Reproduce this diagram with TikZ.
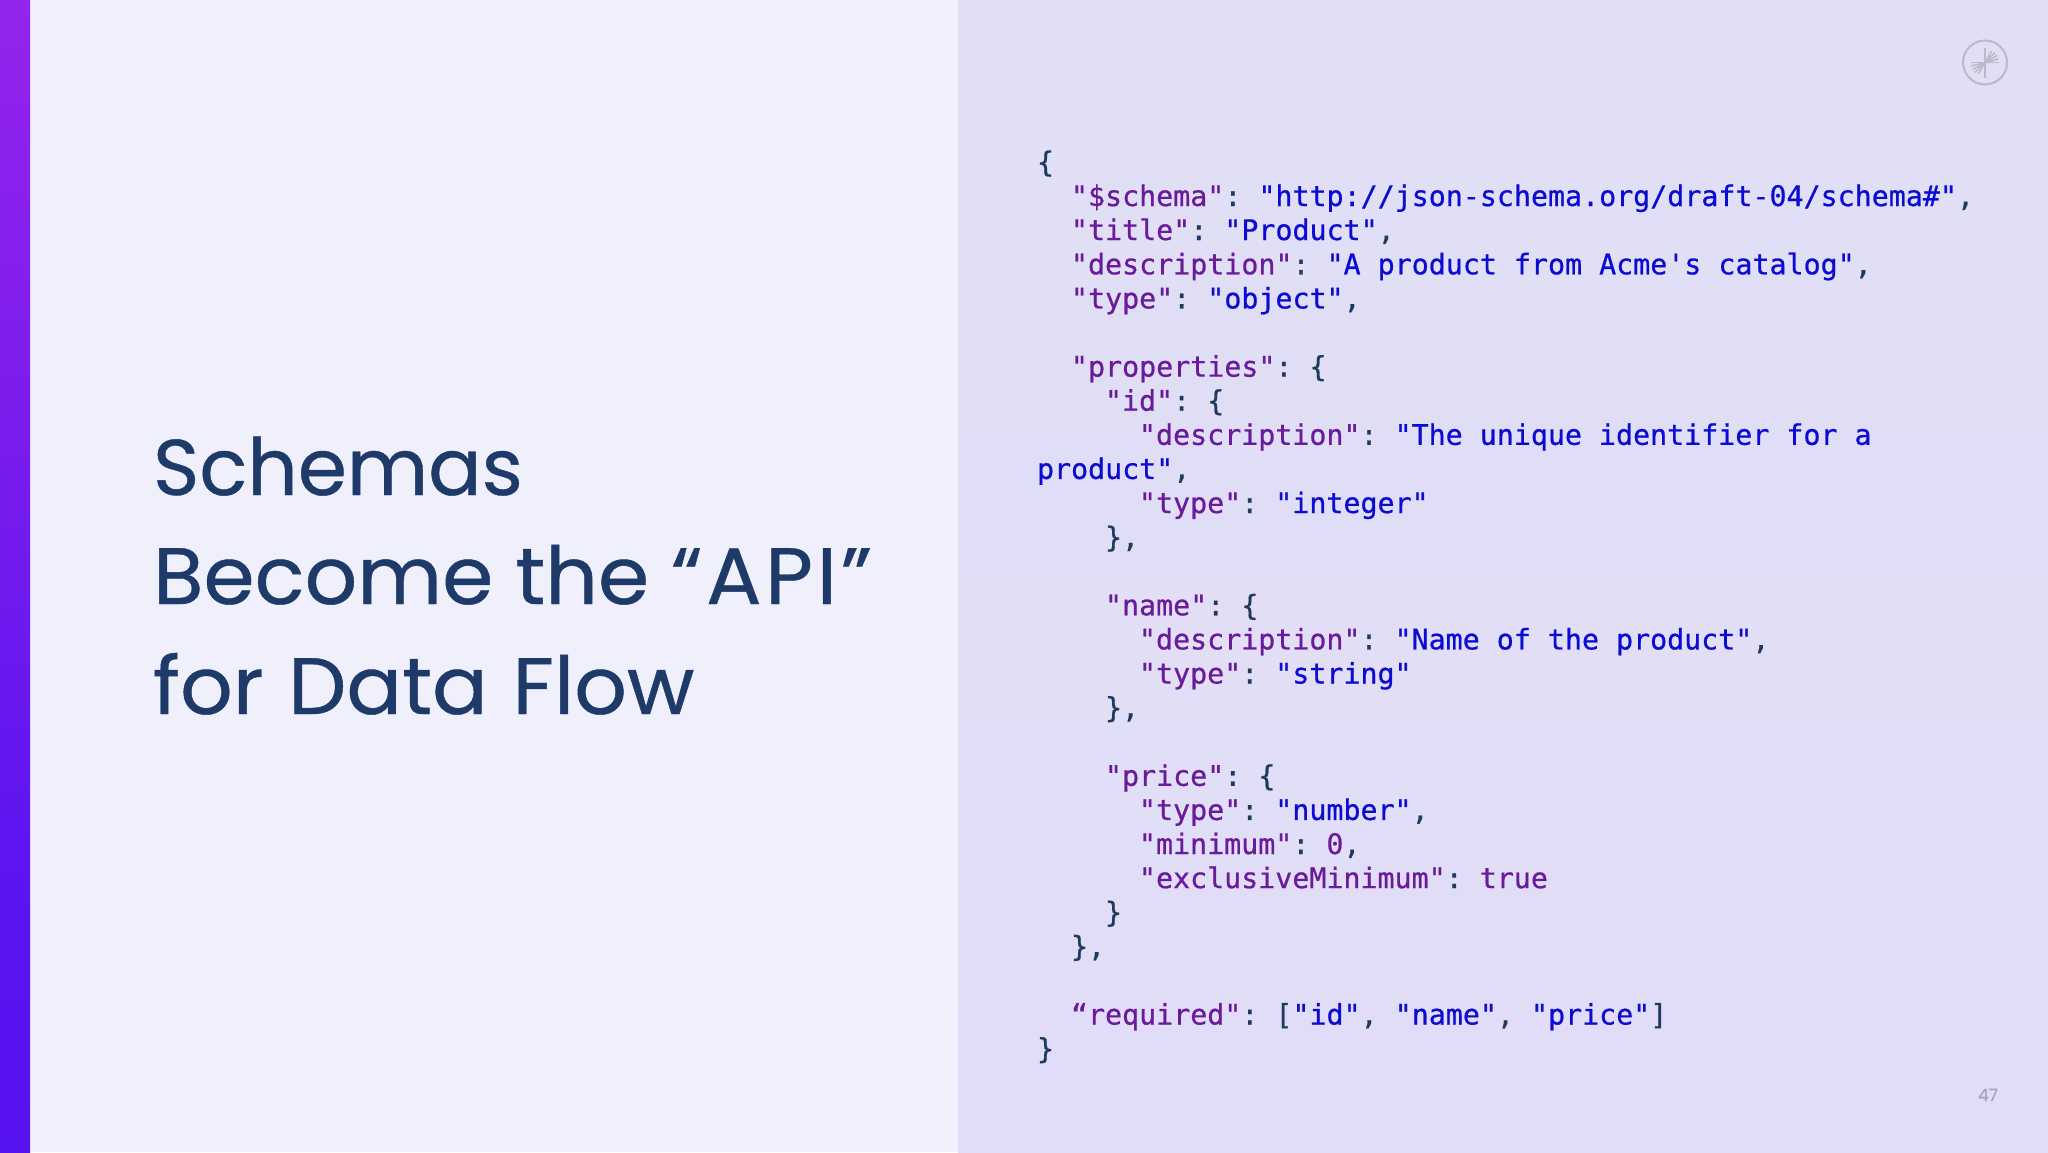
\documentclass[tikz,border=0pt]{standalone}
\usepackage{fontspec}
\setmainfont[FakeBold=0.5]{Poppins}
\newfontfamily\headwide[FakeBold=0.5,FakeStretch=1.03]{Poppins}
\newfontfamily\codefont[FakeBold=0.7]{DejaVu Sans Mono}
\definecolor{pageleft}{HTML}{F0F0FD}
\definecolor{pagertop}{HTML}{E0DFF4}
\definecolor{pagerbot}{HTML}{E1DDF8}
\definecolor{headcol}{HTML}{1E3A68}
\definecolor{keycol}{HTML}{6A1B9A}
\definecolor{strcol}{HTML}{0B0BD2}
\definecolor{puncol}{HTML}{1F3A5F}
\definecolor{logocol}{HTML}{BABACB}
\definecolor{numcol}{HTML}{A6A5BE}
\definecolor{barA}{HTML}{4A10F0}
\definecolor{barB}{HTML}{5A14F0}
\definecolor{barC}{HTML}{8E22EC}
\definecolor{barD}{HTML}{A232E8}
\definecolor{barE}{HTML}{8530CC}
\newcommand{\ckey}[1]{\textcolor{keycol}{#1}}
\newcommand{\cstr}[1]{\textcolor{strcol}{#1}}
\pgfdeclareverticalshading{barshade}{100bp}{
  color(0bp)=(barA);
  color(35bp)=(barB);
  color(70bp)=(barC);
  color(90bp)=(barD);
  color(100bp)=(barE)}
\tikzset{
  x=1pt,y=-1pt,
  code/.style={anchor=base west,inner sep=0pt,outer sep=0pt,text=puncol,font=\codefont\frenchspacing\fontsize{28.3}{34}\selectfont},
  headline/.style={anchor=base west,inner sep=0pt,outer sep=0pt,text=headcol,font=\fontsize{79}{90}\selectfont},
  headlinewide/.style={headline,font=\headwide\fontsize{80}{90}\selectfont},
  logoline/.style={draw=logocol,line width=1.5pt},
}
\begin{document}
\begin{tikzpicture}
\useasboundingbox (0,0) rectangle (2048,1152);
\fill[pageleft] (0,0) rectangle (958,1152);
\shade[top color=pagertop,bottom color=pagerbot] (958,0) rectangle (2048,1152);
\shade[shading=barshade] (0,0) rectangle (30,1152);
\node[headline] (h1) at (153,495) {Schemas};
\node[headlinewide] (h2) at (153,604) {Become the “\kern3.7pt A\kern3.7pt P\kern3.7pt I\kern3.7pt ”};
\node[headlinewide] (h3) at (153,714) {for\kern2.6pt{} Data\kern2.6pt{} Flow};
\node[code] (l0) at (1037,172) {\{};
\node[code] (l1) at (1071,206) {\ckey{"\$schema"}: \cstr{"http://json-schema.org/draft-04/schema\#"},};
\node[code] (l2) at (1071,240) {\ckey{"title"}: \cstr{"Product"},};
\node[code] (l3) at (1071,274.3) {\ckey{"description"}: \cstr{"A product from Acme's catalog"},};
\node[code] (l4) at (1071,308.4) {\ckey{"type"}: \cstr{"object"},};
\node[code] (l6) at (1071,376.6) {\ckey{"properties"}: \{};
\node[code] (l7) at (1105,410.7) {\ckey{"id"}: \{};
\node[code] (l8) at (1139,444.8) {\ckey{"description"}: \cstr{"The unique identifier for a}};
\node[code] (l9) at (1037,478.9) {\cstr{product"},};
\node[code] (l10) at (1139,513) {\ckey{"type"}: \cstr{"integer"}};
\node[code] (l11) at (1105,547.1) {\},};
\node[code] (l13) at (1105,615.3) {\ckey{"name"}: \{};
\node[code] (l14) at (1139,649.4) {\ckey{"description"}: \cstr{"Name of the product"},};
\node[code] (l15) at (1139,683.5) {\ckey{"type"}: \cstr{"string"}};
\node[code] (l16) at (1105,717.6) {\},};
\node[code] (l18) at (1105,785.8) {\ckey{"price"}: \{};
\node[code] (l19) at (1139,819.9) {\ckey{"type"}: \cstr{"number"},};
\node[code] (l20) at (1139,854) {\ckey{"minimum"}: \ckey{0},};
\node[code] (l21) at (1139,888.1) {\ckey{"exclusiveMinimum"}: \ckey{true}};
\node[code] (l22) at (1105,922.2) {\}};
\node[code] (l23) at (1071,956.3) {\},};
\node[code] (l25) at (1071,1024.5) {\ckey{“required"}: [\cstr{"id"}, \cstr{"name"}, \cstr{"price"}]};
\node[code] (l26) at (1037,1058.6) {\}};
\node[circle,draw=logocol,line width=2pt,minimum size=44pt,inner sep=0pt] (logo) at (1985,62.5) {};
\foreach \a/\r in {180/14,165/14,150/14,135/14,120/13}{\draw[logoline] (logo.center) -- ++(\a:\r);}
\draw[logoline] (logo.center) -- ++(0,-15);
\foreach \a/\r in {0/14,-15/14,-30/14,-45/14,-60/13}{\draw[logoline] (logo.center) -- ++(\a:\r);}
\draw[logoline] (logo.center) -- ++(0,15);
\node[anchor=base,inner sep=0pt,text=numcol,font=\fontsize{17}{20}\selectfont] (pagenum) at (1988,1101) {47};
\end{tikzpicture}
\end{document}
